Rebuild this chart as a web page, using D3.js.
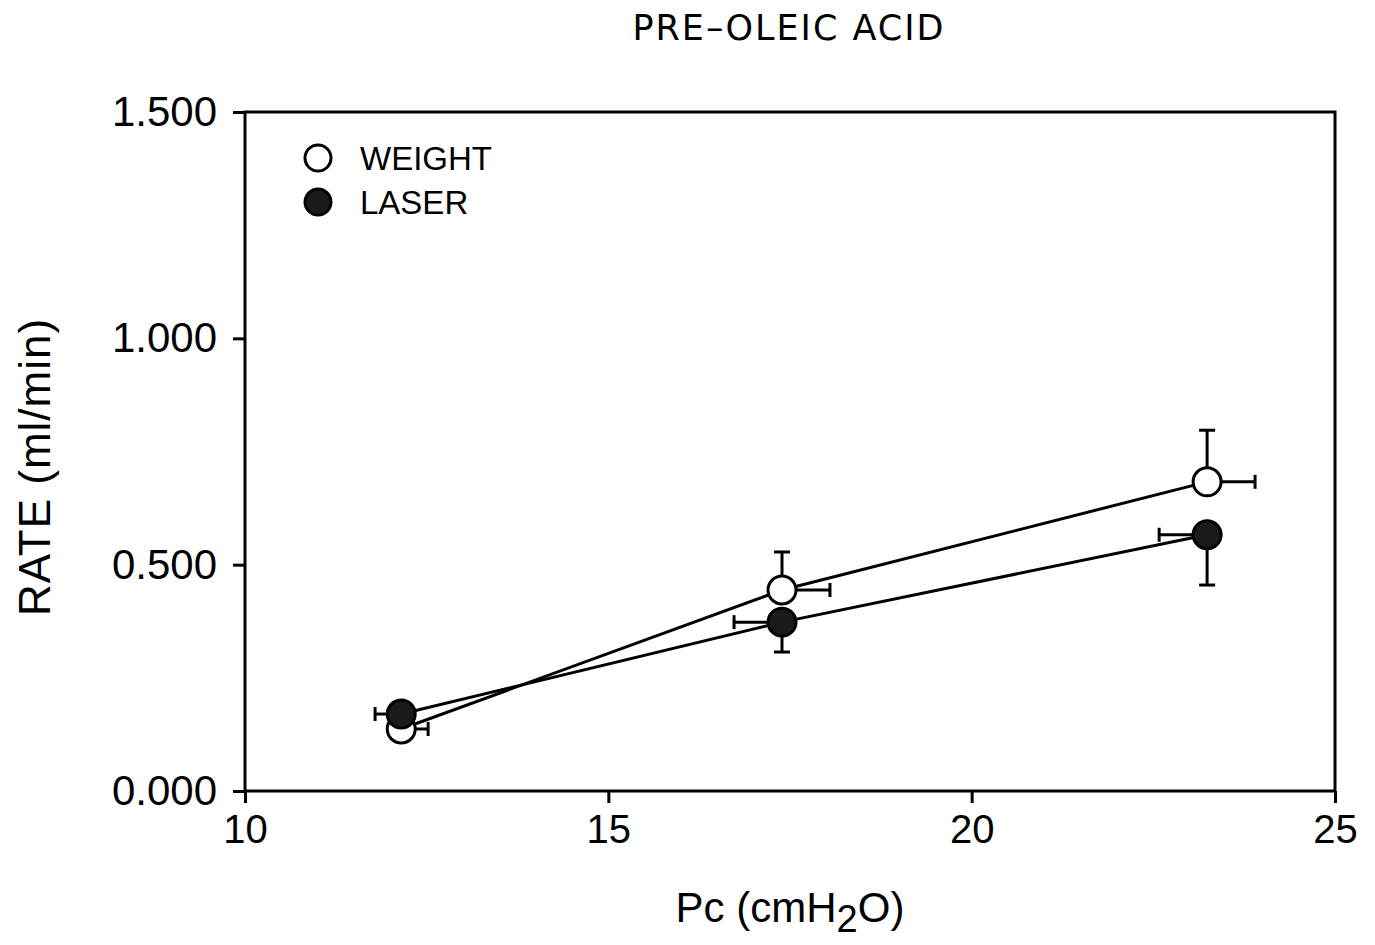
<!DOCTYPE html>
<html>
<head>
<meta charset="utf-8">
<script src="https://cdn.jsdelivr.net/npm/d3@7"></script>
<style>
  body { margin: 0; background: #fff; }
  text { fill: #000; }
</style>
</head>
<body>
<div id="container"></div>
<script>
const width = 1375;
const height = 945;
const FONT = "'Liberation Sans', Arial, sans-serif";

// data
const pc = [12.15, 17.39, 23.24];
const weightRate = [0.137, 0.444, 0.683];
const weightRateErr = [0, 0.084, 0.114];   // drawn upward
const weightPcErr = [0.37, 0.66, 0.66];     // drawn to the right
const laserRate = [0.170, 0.373, 0.566];
const laserRateErr = [0, 0.066, 0.111];    // drawn downward
const laserPcErr = [0.36, 0.66, 0.66];      // drawn to the left

const xTicks = [10, 15, 20, 25];
const yTicks = [0, 0.5, 1.0, 1.5];

const margin = { top: 112, right: 40, bottom: 154, left: 245 };
const R = 14;

const x = d3.scaleLinear().domain([10, 25]).range([margin.left, width - margin.right]);
const y = d3.scaleLinear().domain([0, 1.5]).range([height - margin.bottom, margin.top]);

const svg = d3.select('#container').append('svg')
    .attr('width', width)
    .attr('height', height)
    .attr('viewBox', `0 0 ${width} ${height}`)
    .style('font-family', FONT);

// frame
svg.append('rect')
    .attr('x', x(10)).attr('y', y(1.5))
    .attr('width', x(25) - x(10)).attr('height', y(0) - y(1.5))
    .attr('fill', 'none').attr('stroke', '#000').attr('stroke-width', 3);

let xAxis = svg.append('g')
    .attr('transform', `translate(0,${y(0)})`)
    .call(d3.axisBottom(x).tickValues(xTicks).tickFormat(d3.format('d')).tickSize(12).tickPadding(12));
xAxis.select('.domain').remove();
xAxis.selectAll('line').attr('stroke', '#000').attr('stroke-width', 3);
xAxis.selectAll('text').attr('font-size', 40).attr('font-family', FONT).attr('fill', '#000');

let yAxis = svg.append('g')
    .attr('transform', `translate(${x(10)},0)`)
    .call(d3.axisLeft(y).tickValues(yTicks).tickFormat(d3.format('.3f')).tickSize(12).tickPadding(16));
yAxis.select('.domain').remove();
yAxis.selectAll('line').attr('stroke', '#000').attr('stroke-width', 3);
yAxis.selectAll('text').attr('font-size', 42).attr('font-family', FONT).attr('fill', '#000');

// title and axis labels
svg.append('text')
    .attr('x', 789).attr('y', 40)
    .attr('text-anchor', 'middle')
    .attr('font-size', 35)
    .attr('letter-spacing', 2)
    .style('font-family', "'DejaVu Sans', sans-serif")
    .text('PRE\u2013OLEIC ACID');

let xl = svg.append('text')
    .attr('x', 790).attr('y', 922)
    .attr('text-anchor', 'middle')
    .attr('font-size', 42);
xl.append('tspan').text('Pc (cmH');
xl.append('tspan').attr('dy', 10).attr('font-size', 38).text('2');
xl.append('tspan').attr('dy', -10).text('O)');

svg.append('text')
    .attr('transform', 'translate(50,467) rotate(-90)')
    .attr('text-anchor', 'middle')
    .attr('font-size', 44)
    .attr('letter-spacing', 1)
    .text('RATE (ml/min)');

const weight = pc.map((d, i) => ({ x: d, y: weightRate[i], ey: weightRateErr[i], ex: weightPcErr[i], dir: 1 }));
const laser = pc.map((d, i) => ({ x: d, y: laserRate[i], ey: laserRateErr[i], ex: laserPcErr[i], dir: -1 }));

const line = d3.line().x(d => x(d.x)).y(d => y(d.y));

svg.append('path').datum(weight).attr('d', line)
    .attr('fill', 'none').attr('stroke', '#000').attr('stroke-width', 3);
svg.append('path').datum(laser).attr('d', line)
    .attr('fill', 'none').attr('stroke', '#000').attr('stroke-width', 3);

function drawErrors(data) {
    let g = svg.append('g').attr('stroke', '#000').attr('stroke-width', 3);
    data.forEach(d => {
        let cx = x(d.x), cy = y(d.y);
        if (d.ey > 0) {
            // weight goes up, laser goes down
            let yEnd = y(d.y + d.dir * d.ey);
            g.append('line').attr('x1', cx).attr('x2', cx)
                .attr('y1', cy - d.dir * R).attr('y2', yEnd);
            g.append('line').attr('x1', cx - 8).attr('x2', cx + 8)
                .attr('y1', yEnd).attr('y2', yEnd);
        }
        if (d.ex > 0) {
            let xEnd = x(d.x + d.dir * d.ex);
            g.append('line').attr('x1', cx + d.dir * R).attr('x2', xEnd)
                .attr('y1', cy).attr('y2', cy);
            g.append('line').attr('x1', xEnd).attr('x2', xEnd)
                .attr('y1', cy - 7).attr('y2', cy + 7);
        }
    });
}
drawErrors(weight);
drawErrors(laser);

svg.append('g').selectAll('circle')
    .data(weight)
    .join('circle')
    .attr('cx', d => x(d.x)).attr('cy', d => y(d.y)).attr('r', R)
    .attr('fill', '#fff').attr('stroke', '#000').attr('stroke-width', 3);

svg.append('g').selectAll('circle')
    .data(laser)
    .join('circle')
    .attr('cx', d => x(d.x)).attr('cy', d => y(d.y)).attr('r', R)
    .attr('fill', '#1a1a1a').attr('stroke', '#000').attr('stroke-width', 3);

// legend
const legend = [
    { label: 'WEIGHT', fill: '#fff', y: 158 },
    { label: 'LASER', fill: '#1a1a1a', y: 202 }
];
let lg = svg.append('g').selectAll('g')
    .data(legend)
    .join('g')
    .attr('transform', d => 'translate(318,' + d.y + ')');
lg.append('circle')
    .attr('r', 13)
    .attr('fill', d => d.fill).attr('stroke', '#000').attr('stroke-width', 3);
lg.append('text')
    .attr('x', 42).attr('y', 12)
    .attr('font-size', 33)
    .text(d => d.label);
</script>
</body>
</html>
